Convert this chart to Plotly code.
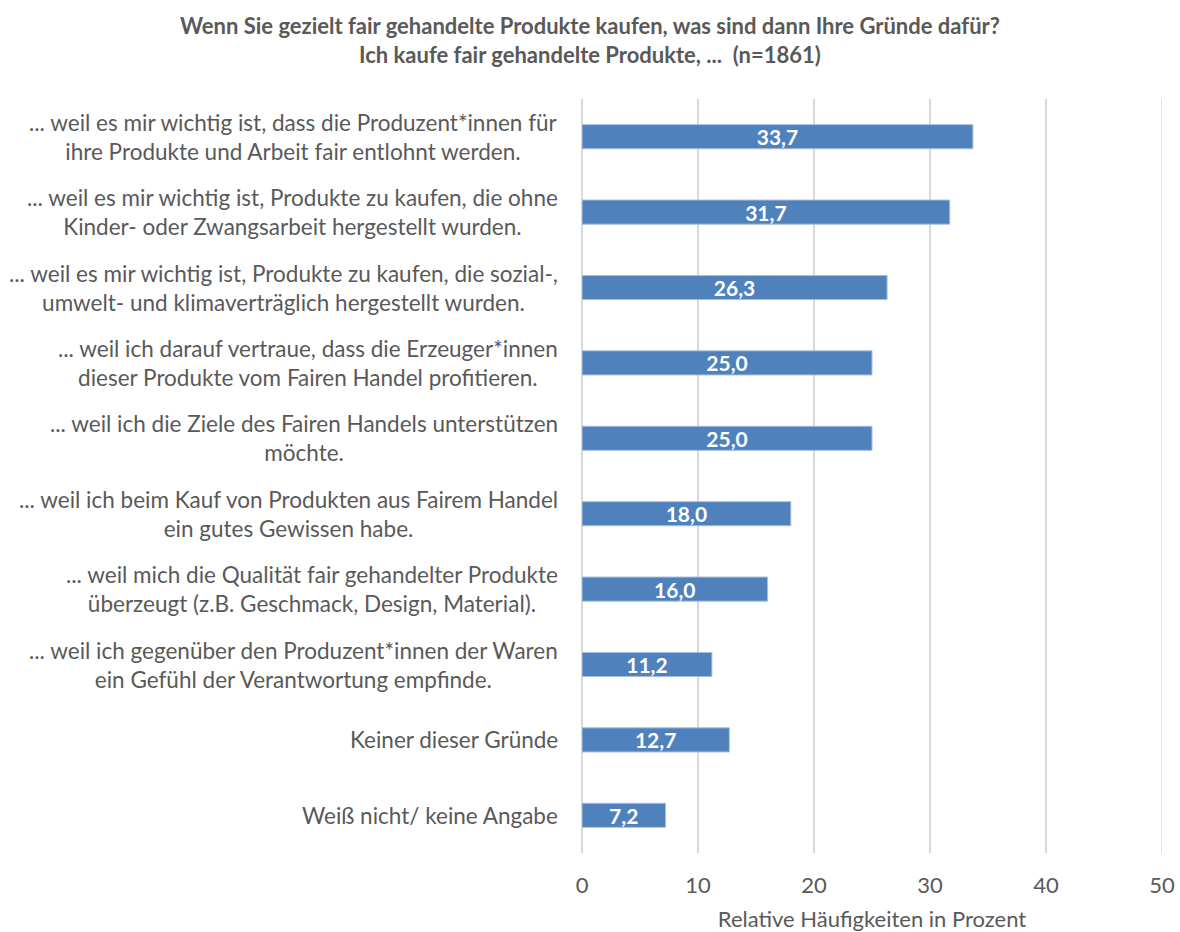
import plotly.graph_objects as go

categories = [
    "... weil es mir wichtig ist, dass die Produzent*innen für<br>ihre Produkte und Arbeit fair entlohnt werden.",
    "... weil es mir wichtig ist, Produkte zu kaufen, die ohne<br>Kinder- oder Zwangsarbeit hergestellt wurden.",
    "... weil es mir wichtig ist, Produkte zu kaufen, die sozial-,<br>umwelt- und klimaverträglich hergestellt wurden.",
    "... weil ich darauf vertraue, dass die Erzeuger*innen<br>dieser Produkte vom Fairen Handel profitieren.",
    "... weil ich die Ziele des Fairen Handels unterstützen<br>möchte.",
    "... weil ich beim Kauf von Produkten aus Fairem Handel<br>ein gutes Gewissen habe.",
    "... weil mich die Qualität fair gehandelter Produkte<br>überzeugt (z.B. Geschmack, Design, Material).",
    "... weil ich gegenüber den Produzent*innen der Waren<br>ein Gefühl der Verantwortung empfinde.",
    "Keiner dieser Gründe",
    "Weiß nicht/ keine Angabe",
]
values = [33.7, 31.7, 26.3, 25.0, 25.0, 18.0, 16.0, 11.2, 12.7, 7.2]
x_ticks = [0, 10, 20, 30, 40, 50]

ids = [f"c{i}" for i in range(len(categories))]
FONT = "Lato, 'Open Sans', sans-serif"
GREY = "#595959"
GRID = "#D9D9D9"

fig = go.Figure(go.Bar(
    y=ids, x=values, orientation="h",
    marker=dict(color="#4F81BD", line=dict(color="#A7BFDE", width=1)),
    width=0.32,
    texttemplate="%{x:.1f}", textposition="inside", insidetextanchor="middle",
    constraintext="none",
    textfont=dict(color="white", size=21, family=FONT, weight="bold"),
    hoverinfo="skip",
))

annotations = []
for cid, lab in zip(ids, categories):
    annotations.append(dict(
        x=0, xref="paper", y=cid, yref="y", text=lab, showarrow=False,
        xanchor="right", yanchor="middle", align="center", xshift=-22,
        font=dict(size=22.5, color=GREY, family=FONT),
    ))

annotations.append(dict(
    x=(590 - 582) / (1162 - 582), xref="paper", y=1, yref="paper", yshift=59,
    xanchor="center", yanchor="middle", align="center", showarrow=False,
    text="<b>Wenn Sie gezielt fair gehandelte Produkte kaufen, was sind dann Ihre Gründe dafür?<br>Ich kaufe fair gehandelte Produkte, ...  (n=1861)</b>",
    font=dict(size=22, color=GREY, family=FONT),
))

fig.update_layout(
    width=1180, height=932,
    margin=dict(l=582, r=18, t=99, b=79),
    paper_bgcolor="white", plot_bgcolor="white",
    separators=", ",
    showlegend=False,
    xaxis=dict(
        range=[0, 50], tickvals=x_ticks, showgrid=True, gridcolor=GRID, gridwidth=1.5,
        zeroline=True, zerolinecolor=GRID, zerolinewidth=1.5,
        showline=False, ticks="outside", ticklen=13, tickcolor="rgba(0,0,0,0)",
        tickfont=dict(size=22, color=GREY, family=FONT),
        automargin=False,
        title=dict(text="Relative Häufigkeiten in Prozent", font=dict(size=22, color=GREY, family=FONT), standoff=14),
    ),
    yaxis=dict(
        categoryorder="array", categoryarray=ids, autorange="reversed",
        showticklabels=False, showgrid=False, ticks="", showline=False,
    ),
    shapes=[dict(type="line", xref="x", yref="paper", x0=50, x1=50, y0=0, y1=1,
                 line=dict(color=GRID, width=1.5), layer="below")],
    annotations=annotations,
)

fig.write_html("out.html")
